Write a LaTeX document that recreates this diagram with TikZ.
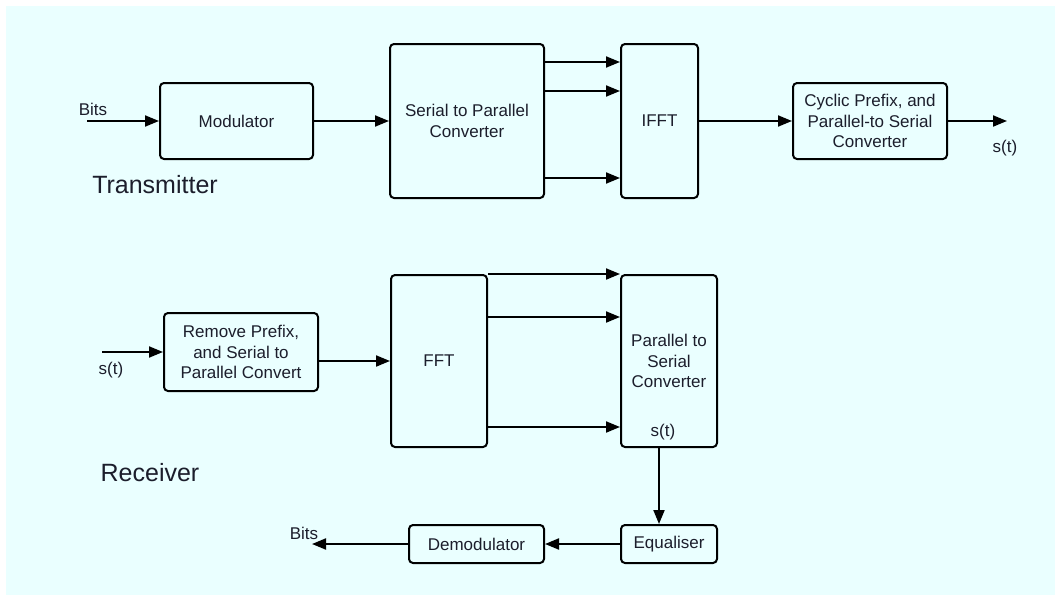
\documentclass[tikz,border=0pt]{standalone}
\usepackage{fontspec}
\setmainfont{Liberation Sans}
\usetikzlibrary{arrows.meta,calc}
\definecolor{bgcyan}{RGB}{234,255,255}
\definecolor{ink}{RGB}{28,30,44}
\tikzset{
  blk/.style={draw=black, fill=bgcyan, line width=2pt, rounded corners=4pt,
              inner sep=0pt, align=center, text=ink, font=\fontsize{17}{20.5}\selectfont},
  arr/.style={line width=2pt, -{Triangle[length=14pt,width=11pt]}},
  lbl/.style={text=ink, inner sep=0pt, font=\fontsize{17}{20}\selectfont},
  title/.style={text=ink, inner sep=0pt, font=\fontsize{25}{30}\selectfont},
}
\begin{document}
\begin{tikzpicture}[x=1pt,y=-1pt]
  % page and backdrop
  \useasboundingbox (0,0) rectangle (1055,597);
  \fill[white] (0,0) rectangle (1055,597);
  \fill[bgcyan] (6,6) rectangle (1055,595);

  % ---------------- transmitter ----------------
  \node[blk, minimum width=153pt, minimum height=76pt] (mod) at (236.5,121) {Modulator};
  \node[blk, minimum width=154pt, minimum height=154pt] (s2p) at (467,121) {Serial to Parallel\\Converter};
  \node[blk, minimum width=77pt, minimum height=154pt] (ifft) at (659.5,121) {IFFT};
  \node[blk, minimum width=154pt, minimum height=76pt] (cp) at (870,121) {Cyclic Prefix, and\\Parallel-to Serial\\Converter};

  \coordinate (txin) at (87,121);
  \coordinate (txout) at (1007,121);
  \node[lbl] (bitsin) at (93,109) {Bits};
  \node[lbl] (stout) at (1005,148) {s(t)};
  \node[title] (tx) at (155,185) {Transmitter};

  \draw[arr] (txin) -- (mod.west);
  \draw[arr] (mod.east) -- (s2p.west);
  \draw[arr] ([yshift=-19pt]s2p.north east) -- ([yshift=-19pt]ifft.north west);
  \draw[arr] ([yshift=-48pt]s2p.north east) -- ([yshift=-48pt]ifft.north west);
  \draw[arr] ([yshift=-135pt]s2p.north east) -- ([yshift=-135pt]ifft.north west);
  \draw[arr] (ifft.east) -- (cp.west);
  \draw[arr] (cp.east) -- (txout);

  % ---------------- receiver ----------------
  \node[blk, minimum width=154pt, minimum height=78pt] (rmv) at (241,352) {Remove Prefix,\\and Serial to\\Parallel Convert};
  \node[blk, minimum width=96pt, minimum height=172pt] (fft) at (439,361) {FFT};
  \node[blk, minimum width=96pt, minimum height=172pt] (p2s) at (669,361) {Parallel to\\Serial\\Converter};
  \node[lbl] (stin) at (663,432) {s(t)};
  \node[blk, minimum width=96pt, minimum height=38pt] (eq) at (669,544) {Equaliser};
  \node[blk, minimum width=135pt, minimum height=38pt] (demod) at (476.5,544) {Demodulator};

  \coordinate (rxin) at (102,352);
  \coordinate (rxout) at (312,544);
  \node[lbl] (strx) at (111,370) {s(t)};
  \node[lbl] (bitsout) at (304,533) {Bits};
  \node[title] (rx) at (150,473) {Receiver};

  \draw[arr] (rxin) -- (rmv.west);
  \draw[arr] (rmv.east |- fft.west) -- (fft.west);
  \draw[arr] (fft.north east) -- (p2s.north west);
  \draw[arr] ([yshift=-43pt]fft.north east) -- ([yshift=-43pt]p2s.north west);
  \draw[arr] ([yshift=-153pt]fft.north east) -- ([yshift=-153pt]p2s.north west);
  \draw[arr] ([xshift=-10pt]p2s.south) -- ([xshift=-10pt]eq.north);
  \draw[arr] (eq.west) -- (demod.east);
  \draw[arr] (demod.west) -- (rxout);
\end{tikzpicture}
\end{document}
